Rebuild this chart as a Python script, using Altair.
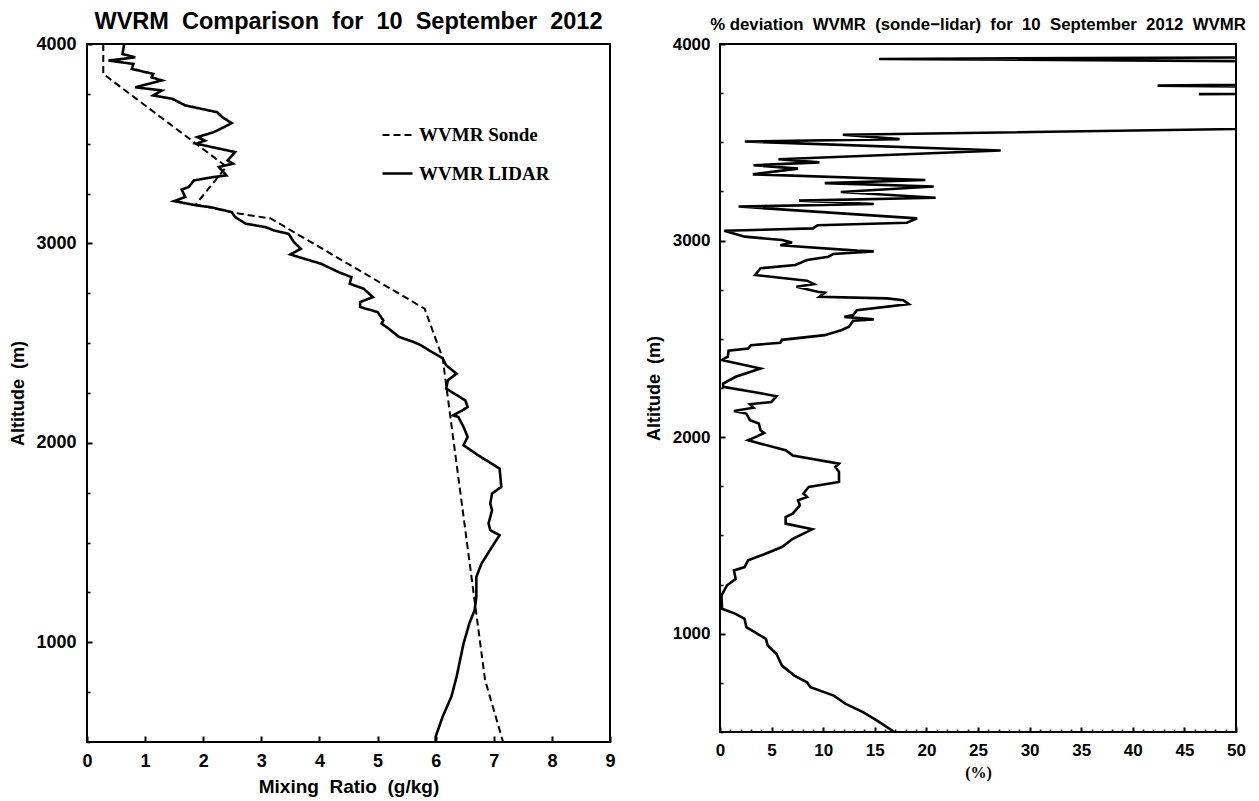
import altair as alt
import pandas as pd

# ---------------- data: left panel (mixing ratio, g/kg vs altitude, m) ----------------
sonde_x = [0.28, 0.28, 2.40, 1.87, 2.61, 3.16, 5.81, 6.12, 6.85, 7.16]
sonde_alt = [4000, 3850, 3385, 3195, 3150, 3125, 2673, 2425, 811, 500]

lidar_x = [0.64, 0.61, 0.83, 0.37, 0.80, 0.77, 1.14, 1.11, 1.29, 0.83, 1.29, 1.14, 1.47, 1.69,
           2.24, 2.33, 2.49, 2.30, 2.18, 1.90, 2.03, 1.88, 2.55, 2.42, 2.51, 2.27, 2.40, 2.18,
           1.84, 1.75, 1.63, 1.69, 1.50, 1.90, 2.12, 2.49, 2.55, 2.73, 3.07, 3.22, 3.47, 3.56,
           3.68, 3.50, 3.65, 4.03, 4.33, 4.55, 4.52, 4.76, 4.92, 4.70, 4.70, 5.00, 5.10, 5.07,
           5.19, 5.37, 5.62, 5.75, 5.93, 6.12, 6.18, 6.36, 6.21, 6.18, 6.51, 6.55, 6.46, 6.30,
           6.39, 6.48, 6.55, 6.48, 6.73, 7.10, 7.13, 6.97, 6.94, 6.97, 6.91, 6.94, 7.10, 6.97,
           6.79, 6.70, 6.70, 6.67, 6.58, 6.48, 6.42, 6.36, 6.27, 6.12, 6.00, 6.00]
lidar_alt = [4000, 3950, 3933, 3917, 3900, 3875, 3850, 3833, 3817, 3783, 3767, 3742, 3725, 3692,
             3658, 3633, 3603, 3575, 3558, 3533, 3516, 3500, 3458, 3416, 3400, 3383, 3341, 3333,
             3316, 3283, 3270, 3233, 3212, 3190, 3182, 3157, 3132, 3099, 3082, 3065, 3048, 3007,
             2973, 2945, 2931, 2898, 2856, 2831, 2798, 2773, 2731, 2706, 2681, 2656, 2614, 2598,
             2573, 2531, 2506, 2489, 2456, 2425, 2389, 2347, 2314, 2272, 2213, 2180, 2163, 2138,
             2130, 2080, 2030, 1988, 1938, 1871, 1779, 1746, 1696, 1662, 1596, 1562, 1537, 1479,
             1395, 1328, 1228, 1161, 1095, 994, 911, 827, 727, 627, 527, 500]

# ---------------- data: right panel (% deviation vs altitude) ----------------
dev_x = [100, 100, 15.4, 100, 100, 42.4, 100, 46.4, 100, 100, 11.9, 17.4, 2.4, 27.2, 5.66,
         9.63, 3.25, 7.56, 3.18, 19.9, 10.15, 20.7, 11.7, 20.9, 7.66, 14.9, 1.8, 19.1, 18.1,
         9.46, 9.0, 0.41, 2.4, 6.0, 6.98, 5.84, 13.27, 14.9, 11.0, 10.5, 8.43, 7.3, 3.93, 3.4,
         8.43, 9.1, 7.4, 9.46, 10.15, 9.63, 16.2, 17.75, 18.3, 13.27, 12.9, 12.05, 14.9, 12.9,
         12.5, 11.8, 10.15, 6.0, 5.84, 3.0, 2.72, 0.83, 0.76, 0.14, 3.93, 1.52, 0.31, 0.31,
         3.25, 5.48, 4.97, 2.9, 3.25, 1.35, 2.55, 2.9, 3.76, 3.93, 4.28, 3.59, 2.72, 6.36,
         7.05, 11.53, 11.18, 11.53, 11.53, 8.6, 8.08, 8.43, 7.56, 7.74, 7.05, 6.36, 6.36, 8.94,
         7.05, 6.0, 4.28, 2.72, 2.38, 1.35, 1.52, 0.66, 0.14, 0.2, 1.52, 2.38, 2.55, 4.45,
         4.62, 5.48, 6.0, 7.21, 8.43, 8.77, 11.02, 12.18, 13.9, 15.3, 16.9]
dev_alt = [4000, 3941, 3924, 3897, 3818, 3788, 3758, 3745, 3730, 3607, 3538, 3516, 3504, 3458,
           3414, 3398, 3383, 3366, 3337, 3308, 3292, 3275, 3247, 3218, 3203, 3186, 3173, 3113,
           3091, 3078, 3062, 3050, 3020, 3003, 2990, 2976, 2949, 2945, 2932, 2918, 2901, 2876,
           2859, 2825, 2796, 2779, 2765, 2740, 2735, 2714, 2706, 2697, 2677, 2646, 2621, 2612,
           2599, 2592, 2562, 2545, 2519, 2495, 2480, 2468, 2451, 2440, 2409, 2392, 2349, 2307,
           2273, 2256, 2230, 2208, 2179, 2167, 2150, 2133, 2120, 2086, 2069, 2035, 2021, 2004,
           1984, 1933, 1907, 1865, 1848, 1823, 1772, 1747, 1713, 1696, 1679, 1653, 1611, 1594,
           1560, 1531, 1483, 1441, 1404, 1373, 1339, 1322, 1279, 1245, 1194, 1127, 1101, 1076,
           1033, 974, 940, 897, 838, 787, 753, 728, 685, 643, 600, 555, 500]

series_names = ["WVMR Sonde", "WVMR LIDAR"]

# tick values
mr_ticks = list(range(0, 10))
alt_labels = [1000, 2000, 3000, 4000]
alt_minor = [v for v in range(500, 4001, 250) if v % 1000 != 0]
dev_labels = list(range(0, 51, 5))
dev_minor = [v for v in range(0, 51) if v % 5 != 0]

FONT = "Liberation Sans"
SERIF = "Liberation Serif"
NB = "\u00a0"

# ---------------- tables ----------------
df_left = pd.concat([
    pd.DataFrame({"series": series_names[0], "x": sonde_x, "alt": sonde_alt,
                  "i": range(len(sonde_x))}),
    pd.DataFrame({"series": series_names[1], "x": lidar_x, "alt": lidar_alt,
                  "i": range(len(lidar_x))}),
], ignore_index=True)
df_right = pd.DataFrame({"x": dev_x, "alt": dev_alt, "i": range(len(dev_x))})


def label_axis(orient, values, title, tsize=18, tfont=FONT, lsize=18, pad=10, tpad=10, **kw):
    return alt.Axis(orient=orient, values=values, format="d", ticks=False, domain=False,
                    grid=False, labelFont=FONT, labelFontWeight="bold", labelFontSize=lsize,
                    labelColor="black", labelPadding=pad, labelFlush=False, labelOverlap=False,
                    title=title, titleFont=tfont, titleFontWeight="bold", titleFontSize=tsize,
                    titleColor="black", titlePadding=tpad, **kw)


def tick_axis(orient, values, size, width=2):
    return alt.Axis(orient=orient, values=values, labels=False, domain=False, grid=False,
                    ticks=True, tickSize=size, offset=-size, tickColor="black",
                    tickWidth=width, title=None)


# ---------------- left panel ----------------
xs_l = alt.Scale(domain=[0, 9], nice=False, zero=False)
ys = alt.Scale(domain=[500, 4000], nice=False, zero=False)

left_main = alt.Chart(df_left).mark_line(color="black", clip=True).encode(
    x=alt.X("x:Q", scale=xs_l,
            axis=label_axis("bottom", mr_ticks, f"Mixing{NB} Ratio{NB} (g/kg)",
                            tsize=19, tpad=7)),
    y=alt.Y("alt:Q", scale=ys,
            axis=label_axis("left", alt_labels, f"Altitude{NB} (m)", pad=11, tpad=8)),
    strokeDash=alt.StrokeDash(
        "series:N",
        scale=alt.Scale(domain=series_names, range=[[7, 4], [1, 0]]),
        legend=alt.Legend(title=None, orient="none", legendX=294, legendY=75,
                          symbolType="stroke", symbolSize=900, symbolStrokeWidth=1.4,
                          symbolStrokeColor="black", labelFont=SERIF, labelFontWeight="bold",
                          labelFontSize=19, labelColor="black", labelOffset=5,
                          rowPadding=12, padding=0)),
    strokeWidth=alt.StrokeWidth("series:N",
                                scale=alt.Scale(domain=series_names, range=[2.0, 2.6]),
                                legend=None),
    order="i:Q",
)

left_major = alt.Chart(df_left).mark_line(opacity=0, clip=True).encode(
    x=alt.X("x:Q", scale=xs_l, axis=tick_axis("bottom", mr_ticks, 6)),
    y=alt.Y("alt:Q", scale=ys, axis=tick_axis("left", alt_labels, 5)),
)
left_minor = alt.Chart(df_left).mark_line(opacity=0, clip=True).encode(
    x=alt.X("x:Q", scale=xs_l, axis=None),
    y=alt.Y("alt:Q", scale=ys, axis=tick_axis("left", alt_minor, 3, 1.6)),
)

left = alt.layer(left_main, left_major, left_minor).resolve_axis(
    x="independent", y="independent"
).properties(
    width=523, height=698,
    title=alt.TitleParams(
        text=f"WVRM{NB} Comparison{NB} for{NB} 10{NB} September{NB} 2012",
        font=FONT, fontSize=23.5, fontWeight="bold", color="black",
        anchor="middle", frame="group", offset=2),
)

# ---------------- right panel ----------------
xs_r = alt.Scale(domain=[0, 50], nice=False, zero=False)

right_main = alt.Chart(df_right).mark_line(color="black", strokeWidth=2.6, clip=True).encode(
    x=alt.X("x:Q", scale=xs_r,
            axis=label_axis("bottom", dev_labels, "(%)", tsize=16, tfont=SERIF, lsize=17,
                            tpad=6)),
    y=alt.Y("alt:Q", scale=ys,
            axis=label_axis("left", alt_labels, f"Altitude{NB} (m)", lsize=17, tpad=9)),
    order="i:Q",
)
right_major = alt.Chart(df_right).mark_line(opacity=0, clip=True).encode(
    x=alt.X("x:Q", scale=xs_r, axis=tick_axis("bottom", dev_labels, 5)),
    y=alt.Y("alt:Q", scale=ys, axis=tick_axis("left", alt_labels, 5)),
)
right_minor = alt.Chart(df_right).mark_line(opacity=0, clip=True).encode(
    x=alt.X("x:Q", scale=xs_r, axis=tick_axis("bottom", dev_minor, 3, 1.6)),
    y=alt.Y("alt:Q", scale=ys, axis=tick_axis("left", alt_minor, 3, 1.6)),
)

right = alt.layer(right_main, right_major, right_minor).resolve_axis(
    x="independent", y="independent"
).properties(
    width=516, height=688,
    title=alt.TitleParams(
        text=f"%{NB}deviation{NB} WVMR{NB} (sonde\u2212lidar){NB} for{NB} 10{NB} September{NB} 2012{NB} WVMR",
        font=FONT, fontSize=16.8, fontWeight="bold", color="black",
        anchor="middle", frame="group", offset=1),
)

chart = alt.hconcat(left, right, spacing=27).properties(
    padding={"left": 0, "top": 0, "right": 0, "bottom": 0},
    background="white",
).configure_view(stroke="black", strokeWidth=2)

chart.save("out.html", embed_options={"renderer": "svg", "actions": False})
